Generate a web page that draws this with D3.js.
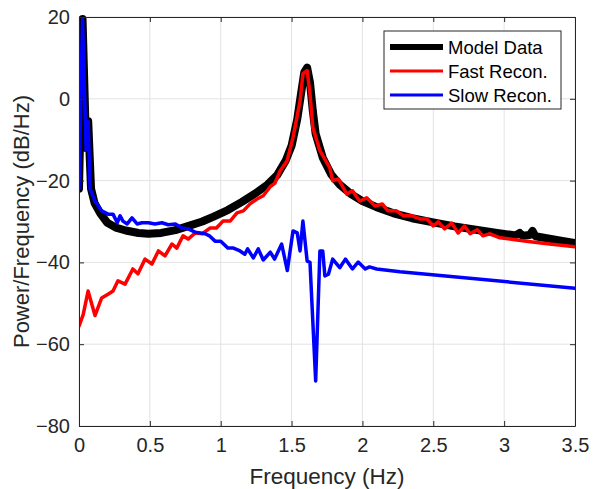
<!DOCTYPE html>
<html><head><meta charset="utf-8">
<script src="https://cdn.jsdelivr.net/npm/d3@7"></script>
<style>body{margin:0;background:#fff}svg{display:block}</style>
</head><body><svg id="c" width="598" height="489"></svg>
<script>
const xTicks=[0,0.5,1,1.5,2,2.5,3,3.5];
const yTicks=[20,0,-20,-40,-60,-80];
const seriesNames=["Model Data","Fast Recon.","Slow Recon."];
const seriesColors=["#000000","#ff0000","#0000ff"];

const modelFreq=[0,0.025,0.05,0.065,0.085,0.11,0.15,0.2,0.26,0.33,0.42,0.49,0.58,0.68,0.78,0.87,0.95,1.05,1.15,1.25,1.33,1.40,1.46,1.50,1.54,1.57,1.59,1.61,1.63,1.65,1.67,1.72,1.78,1.84,1.92,2.0,2.1,2.22,2.35,2.5,2.65,2.8,2.95,3.08,3.11,3.13,3.18,3.2,3.22,3.3,3.4,3.5];
const modelPSD=[-22,19.5,-12,-5.5,-22,-25.5,-28,-30.3,-31.5,-32.2,-32.8,-33,-32.8,-32.1,-31,-30,-28.8,-27.2,-25.2,-23,-21,-18.6,-15,-11.5,-5,2,6.5,7.6,4,-3,-8.6,-14.4,-18.5,-21,-23.3,-25,-26.5,-28,-29.2,-30.2,-31.2,-32,-32.8,-33.4,-32.8,-33.5,-33.3,-32.3,-33.6,-34.1,-34.7,-35.3];

const fastFreq=[0,0.03,0.064,0.113,0.16,0.205,0.24,0.275,0.325,0.38,0.416,0.466,0.515,0.56,0.607,0.656,0.69,0.734,0.77,0.82,0.87,0.924,0.97,1.016,1.066,1.115,1.16,1.207,1.256,1.3,1.35,1.383,1.42,1.468,1.51,1.56,1.58,1.61,1.63,1.65,1.7,1.77,1.79,1.83,1.89,1.93,1.98,2.03,2.09,2.14,2.18,2.24,2.29,2.35,2.41,2.455,2.5,2.535,2.58,2.63,2.675,2.72,2.76,2.81,2.85,2.9,2.97,3.09,3.2,3.32,3.5];
const fastPSD=[-55.6,-52.7,-47,-53,-48.7,-47.8,-47,-44.5,-45.3,-41.6,-42.8,-39.2,-40.4,-37.2,-38.4,-35.5,-36.5,-33.5,-34.3,-32.8,-33,-31.6,-31.6,-29.9,-29.9,-27.9,-27.4,-25.7,-24.5,-23.7,-21.5,-20.6,-17.6,-15.2,-9.5,-0.5,6.1,6.9,1.2,-7,-12.7,-16.9,-20,-19.6,-23.3,-22.5,-25,-24.2,-26.2,-25.7,-27.4,-27.4,-28.6,-28.6,-29.4,-29.4,-31.1,-30.1,-31.8,-30.4,-32.8,-31.1,-33,-32,-33.5,-33,-34,-34.5,-35,-35.5,-36.2];

const slowFreq=[0,0.025,0.05,0.065,0.078,0.113,0.16,0.205,0.24,0.27,0.29,0.31,0.34,0.374,0.41,0.444,0.49,0.536,0.585,0.63,0.68,0.727,0.77,0.82,0.89,0.92,0.96,1.0,1.05,1.09,1.136,1.17,1.19,1.23,1.265,1.3,1.35,1.38,1.43,1.47,1.51,1.54,1.56,1.58,1.61,1.63,1.67,1.7,1.72,1.735,1.76,1.79,1.84,1.88,1.93,1.97,2.02,2.05,2.1,2.265,3.5];
const slowPSD=[-22,19.5,-12.5,-5.5,-22,-25,-27.4,-28.2,-28.2,-30.3,-28.6,-29.9,-30.6,-29.1,-30.6,-30.3,-30.3,-30.6,-30.3,-30.8,-30.6,-31.6,-31.8,-32.6,-33,-33.5,-34.8,-34.8,-36.5,-36.5,-37.2,-38,-36.7,-38.9,-36.7,-39.4,-37.5,-39.2,-35.5,-42,-32.3,-32.8,-37.2,-29.9,-39.7,-40,-69,-37.2,-37.2,-43.3,-42.9,-39.2,-41.3,-39.2,-41.6,-39.9,-41.6,-41.1,-41.6,-42.3,-46.3];

const svg=d3.select("#c");
const L=79,R=575,T=17,B=426;
const x=d3.scaleLinear().domain([0,3.5]).range([L,R]);
const y=d3.scaleLinear().domain([-80,20]).range([B,T]);
const axisCol="#262626";
const font="'Liberation Sans', Arial, sans-serif";

// grid
const g=svg.append("g");
g.selectAll(".gx").data(xTicks).enter().append("line")
 .attr("x1",d=>x(d)).attr("x2",d=>x(d)).attr("y1",T).attr("y2",B)
 .attr("stroke","#e3e3e3").attr("stroke-width",1);
g.selectAll(".gy").data(yTicks).enter().append("line")
 .attr("y1",d=>y(d)).attr("y2",d=>y(d)).attr("x1",L).attr("x2",R)
 .attr("stroke","#e3e3e3").attr("stroke-width",1);

// clip
svg.append("clipPath").attr("id","clip").append("rect").attr("x",L).attr("y",T-6).attr("width",R-L).attr("height",B-T+6);

const line=d3.line().x(d=>x(d[0])).y(d=>y(d[1]));
const plots=svg.append("g").attr("clip-path","url(#clip)");
const data=[[modelFreq,modelPSD,8],[fastFreq,fastPSD,3.5],[slowFreq,slowPSD,3.5]];
data.forEach((s,i)=>{
  plots.append("path").datum(d3.zip(s[0],s[1])).attr("d",line)
   .attr("fill","none").attr("stroke",seriesColors[i]).attr("stroke-width",s[2])
   .attr("stroke-linejoin","round").attr("stroke-linecap","round");
});

// axes
const ax=svg.append("g");
ax.append("g").attr("transform",`translate(0,${B})`).call(d3.axisBottom(x).tickValues(xTicks).tickSizeInner(-5).tickSizeOuter(0).tickPadding(12).tickFormat(d3.format("")));
ax.append("g").attr("transform",`translate(0,${T})`).call(d3.axisTop(x).tickValues(xTicks).tickSizeInner(-5).tickSizeOuter(0).tickFormat(""));
ax.append("g").attr("transform",`translate(${L},0)`).call(d3.axisLeft(y).tickValues(yTicks).tickSizeInner(-5).tickSizeOuter(0).tickPadding(9));
ax.append("g").attr("transform",`translate(${R},0)`).call(d3.axisRight(y).tickValues(yTicks).tickSizeInner(-5).tickSizeOuter(0).tickFormat(""));
ax.selectAll("path.domain").attr("stroke",axisCol);
ax.selectAll(".tick line").attr("stroke",axisCol);
ax.selectAll(".tick text").attr("fill",axisCol).style("font-family",font).style("font-size","20px");

// labels
svg.append("text").attr("x",(L+R)/2).attr("y",484).attr("text-anchor","middle")
 .style("font-family",font).style("font-size","22.5px").attr("fill",axisCol).text("Frequency (Hz)");
svg.append("text").attr("transform",`translate(29,${(T+B)/2}) rotate(-90)`).attr("text-anchor","middle")
 .style("font-family",font).style("font-size","22px").attr("fill",axisCol).text("Power/Frequency (dB/Hz)");

// legend
const lg=svg.append("g");
lg.append("rect").attr("x",384).attr("y",31).attr("width",177).attr("height",78)
 .attr("fill","#fff").attr("stroke",axisCol).attr("stroke-width",1);
const rows=[47,71,95];
seriesNames.forEach((n,i)=>{
  lg.append("line").attr("x1",390).attr("x2",443).attr("y1",rows[i]).attr("y2",rows[i])
   .attr("stroke",seriesColors[i]).attr("stroke-width",i===0?6:3);
  lg.append("text").attr("x",448).attr("y",rows[i]+6.5).style("font-family",font).style("font-size","18.5px")
   .attr("fill","#000").text(n);
});
</script></body></html>
